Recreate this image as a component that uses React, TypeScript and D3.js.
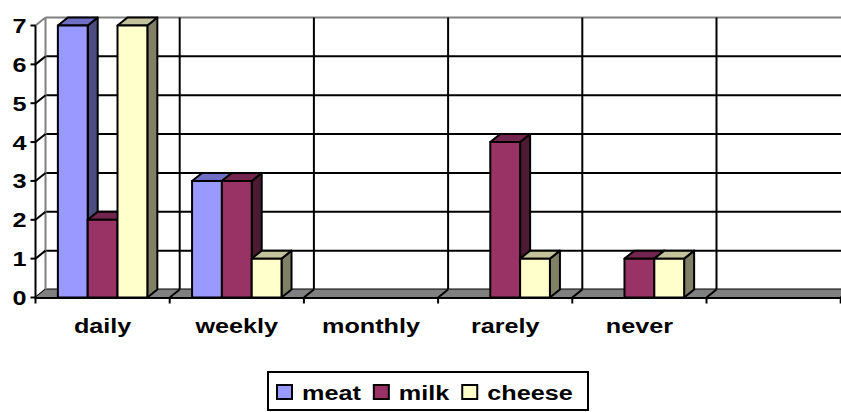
import React, { useRef, useEffect } from "react";
import * as d3 from "d3";

const categories = ["daily", "weekly", "monthly", "rarely", "never", ""];
const seriesNames = ["meat", "milk", "cheese"];
const meat = [7, 3, 0, 0, 0, 0];
const milk = [2, 3, 0, 4, 1, 0];
const cheese = [7, 1, 0, 1, 1, 0];
const yTicks = [0, 1, 2, 3, 4, 5, 6, 7];

const W = 841;
const H = 412;
const DX = 10;
const DY = -8;
const FONT = "'Liberation Sans', Arial, sans-serif";
const SX = 1.2;

const palette: Record<string, { front: string; top: string; side: string }> = {
  meat: { front: "#9999FF", top: "#6E6EC4", side: "#4D4D80" },
  milk: { front: "#993366", top: "#73264D", side: "#4D1A33" },
  cheese: { front: "#FFFFCC", top: "#C4C49C", side: "#808066" },
};

export default function App() {
  const ref = useRef<SVGSVGElement>(null);

  useEffect(() => {
    const svg = d3.select(ref.current);
    svg.selectAll("*").remove();

    const values: Record<string, number[]> = { meat, milk, cheese };

    const x = d3.scaleBand<string>().domain(categories).range([35.5, 35.5 + 6 * 134.2]);
    const xs = d3
      .scaleBand<string>()
      .domain(seriesNames)
      .range([0, x.step()])
      .paddingInner(0)
      .paddingOuter(0.75);
    const y = d3.scaleLinear().domain([0, 7]).range([297.5, 25.5]);

    const x0 = x.range()[0];
    const xEnd = W + 20;
    const yTop = y(7);
    const yBot = y(0);
    const boundaries = d3.range(categories.length + 1).map((i) => x0 + i * x.step());

    // back wall
    const g = svg.append("g");
    g.append("rect")
      .attr("x", x0 + DX)
      .attr("y", yTop + DY)
      .attr("width", xEnd - x0 - DX)
      .attr("height", yBot - yTop)
      .attr("fill", "#fff");

    g.selectAll("line.hg")
      .data(yTicks)
      .join("line")
      .attr("x1", x0 + DX)
      .attr("x2", xEnd)
      .attr("y1", (d) => y(d) + DY)
      .attr("y2", (d) => y(d) + DY)
      .attr("stroke", (d) => (d === 7 ? "#808080" : "#000"))
      .attr("stroke-width", 2);

    g.selectAll("line.vg")
      .data(boundaries.slice(1))
      .join("line")
      .attr("x1", (d) => d + DX)
      .attr("x2", (d) => d + DX)
      .attr("y1", yTop + DY)
      .attr("y2", yBot + DY)
      .attr("stroke", "#000")
      .attr("stroke-width", 2);

    g.append("line")
      .attr("x1", x0 + DX)
      .attr("x2", x0 + DX)
      .attr("y1", yTop + DY)
      .attr("y2", yBot + DY)
      .attr("stroke", "#808080")
      .attr("stroke-width", 2);

    g.selectAll("line.sg")
      .data(yTicks)
      .join("line")
      .attr("x1", x0)
      .attr("x2", x0 + DX)
      .attr("y1", (d) => y(d))
      .attr("y2", (d) => y(d) + DY)
      .attr("stroke", (d) => (d === 7 ? "#808080" : "#000"))
      .attr("stroke-width", 2);

    g.append("polygon")
      .attr(
        "points",
        [
          [x0, yBot],
          [x0 + DX, yBot + DY],
          [xEnd, yBot + DY],
          [xEnd, yBot],
        ]
          .map((p) => p.join(","))
          .join(" ")
      )
      .attr("fill", "#808080");

    g.selectAll("line.fd")
      .data(boundaries.slice(1))
      .join("line")
      .attr("x1", (d) => d)
      .attr("x2", (d) => d + DX)
      .attr("y1", yBot)
      .attr("y2", yBot + DY)
      .attr("stroke", "#000")
      .attr("stroke-width", 2);

    // bars
    const bars = svg.append("g").attr("stroke", "#000").attr("stroke-width", 2).attr("stroke-linejoin", "round");
    categories.forEach((c, ci) => {
      seriesNames.forEach((s) => {
        const v = values[s][ci];
        if (!v) return;
        const bx = (x(c) as number) + (xs(s) as number);
        const bw = xs.bandwidth();
        const ty = y(v);
        const col = palette[s];
        bars.append("polygon")
          .attr("points", [[bx + bw, ty], [bx + bw + DX, ty + DY], [bx + bw + DX, yBot + DY], [bx + bw, yBot]].map((p) => p.join(",")).join(" "))
          .attr("fill", col.side);
        bars.append("polygon")
          .attr("points", [[bx, ty], [bx + DX, ty + DY], [bx + bw + DX, ty + DY], [bx + bw, ty]].map((p) => p.join(",")).join(" "))
          .attr("fill", col.top);
        bars.append("rect")
          .attr("x", bx)
          .attr("y", ty)
          .attr("width", bw)
          .attr("height", yBot - ty)
          .attr("fill", col.front);
      });
    });

    // axes
    const ax = svg.append("g").attr("stroke", "#000").attr("stroke-width", 2);
    ax.append("line").attr("x1", x0).attr("x2", xEnd).attr("y1", yBot + 0.5).attr("y2", yBot + 0.5);
    ax.selectAll("line.xt")
      .data(boundaries)
      .join("line")
      .attr("x1", (d) => d)
      .attr("x2", (d) => d)
      .attr("y1", yBot)
      .attr("y2", yBot + 6);
    ax.append("line").attr("x1", x0).attr("x2", x0).attr("y1", yTop).attr("y2", yBot + 1);
    ax.selectAll("line.yt")
      .data(yTicks)
      .join("line")
      .attr("x1", x0 - 5)
      .attr("x2", x0)
      .attr("y1", (d) => y(d))
      .attr("y2", (d) => y(d));

    // labels
    const lab = svg.append("g").attr("font-family", FONT).attr("font-weight", "bold").attr("font-size", 21).attr("fill", "#000");
    lab.selectAll("text.yl")
      .data(yTicks)
      .join("text")
      .attr("transform", (d) => `translate(${x0 - 9},${y(d) + 7.5}) scale(${SX},1)`)
      .attr("text-anchor", "end")
      .text((d) => String(d));
    lab.selectAll("text.xl")
      .data(categories)
      .join("text")
      .attr("transform", (d) => `translate(${(x(d) as number) + x.step() / 2},333) scale(${SX},1)`)
      .attr("text-anchor", "middle")
      .text((d) => d);

    // legend
    const lg = svg.append("g");
    lg.append("rect")
      .attr("x", 268)
      .attr("y", 372)
      .attr("width", 320)
      .attr("height", 38)
      .attr("fill", "#fff")
      .attr("stroke", "#000")
      .attr("stroke-width", 2);
    let cx = 277;
    seriesNames.forEach((s) => {
      lg.append("rect")
        .attr("x", cx)
        .attr("y", 385)
        .attr("width", 15)
        .attr("height", 14)
        .attr("fill", palette[s].front)
        .attr("stroke", "#000")
        .attr("stroke-width", 2);
      const t = lg.append("text")
        .attr("transform", `translate(${cx + 25},400) scale(${SX},1)`)
        .attr("font-family", FONT)
        .attr("font-weight", "bold")
        .attr("font-size", 21)
        .text(s);
      const tw = (t.node() as SVGTextElement).getComputedTextLength() * SX;
      cx = cx + 25 + tw + 13;
    });
  }, []);

  return (
    <svg
      ref={ref}
      width={W}
      height={H}
      style={{ position: "absolute", left: 0, top: 0, background: "#fff" }}
    />
  );
}
